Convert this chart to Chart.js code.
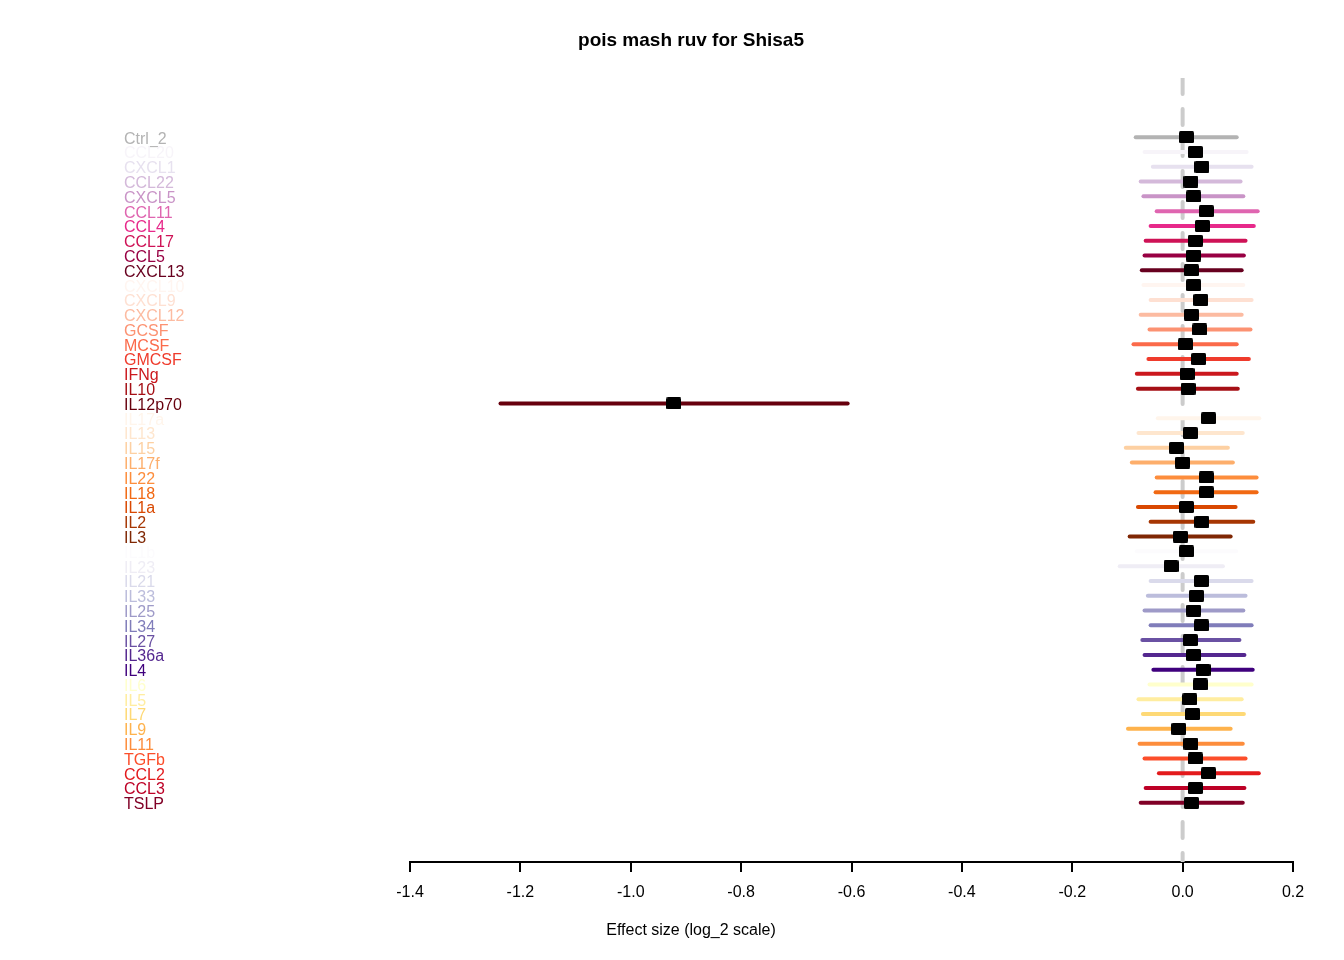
<!DOCTYPE html>
<html>
<head>
<meta charset="utf-8">
<script src="https://cdn.jsdelivr.net/npm/chart.js@4/dist/chart.umd.min.js"></script>
<style>
html,body{margin:0;padding:0;background:#fff;}
#wrap{width:1344px;height:960px;}
</style>
</head>
<body>
<div id="wrap"><canvas id="c" width="1344" height="960"></canvas></div>
<script>
const labels = ["Ctrl_2","CCL20","CXCL1","CCL22","CXCL5","CCL11","CCL4","CCL17","CCL5","CXCL13",
  "CXCL10","CXCL9","CXCL12","GCSF","MCSF","GMCSF","IFNg","IL10","IL12p70",
  "IL17a","IL13","IL15","IL17f","IL22","IL18","IL1a","IL2","IL3",
  "IL1b","IL23","IL21","IL33","IL25","IL34","IL27","IL36a","IL4",
  "IL6","IL5","IL7","IL9","IL11","TGFb","CCL2","CCL3","TSLP"];
const means = [0.007,0.023,0.035,0.015,0.020,0.043,0.036,0.023,0.020,0.016,
  0.020,0.033,0.016,0.031,0.005,0.029,0.008,0.010,-0.922,
  0.047,0.014,-0.011,0.000,0.043,0.043,0.007,0.035,-0.004,
  0.007,-0.021,0.034,0.025,0.020,0.034,0.014,0.020,0.037,
  0.032,0.013,0.018,-0.007,0.015,0.023,0.047,0.023,0.016];
const lowers = [-0.085,-0.069,-0.054,-0.076,-0.071,-0.047,-0.058,-0.067,-0.069,-0.074,
  -0.071,-0.058,-0.076,-0.060,-0.089,-0.062,-0.083,-0.081,-1.236,
  -0.045,-0.080,-0.103,-0.092,-0.047,-0.049,-0.081,-0.058,-0.096,
  -0.083,-0.114,-0.058,-0.063,-0.069,-0.058,-0.073,-0.069,-0.053,
  -0.060,-0.080,-0.072,-0.099,-0.078,-0.069,-0.043,-0.067,-0.076];
const uppers = [0.098,0.116,0.125,0.105,0.110,0.136,0.129,0.114,0.111,0.107,
  0.110,0.125,0.107,0.123,0.098,0.120,0.098,0.100,-0.607,
  0.139,0.109,0.082,0.091,0.134,0.134,0.096,0.128,0.087,
  0.097,0.073,0.125,0.114,0.110,0.125,0.103,0.112,0.127,
  0.125,0.107,0.111,0.087,0.109,0.114,0.138,0.112,0.109];
const colors = ["#B3B3B3",
  "#F7F4F9","#E7E1EF","#D4B9DA","#C994C7","#DF65B0","#E7298A","#CE1256","#980043","#67001F",
  "#FFF5F0","#FEE0D2","#FCBBA1","#FC9272","#FB6A4A","#EF3B2C","#CB181D","#A50F15","#67000D",
  "#FFF5EB","#FEE6CE","#FDD0A2","#FDAE6B","#FD8D3C","#F16913","#D94801","#A63603","#7F2704",
  "#FCFBFD","#EFEDF5","#DADAEB","#BCBDDC","#9E9AC8","#807DBA","#6A51A3","#54278F","#3F007D",
  "#FFFFCC","#FFEDA0","#FED976","#FEB24C","#FD8D3C","#FC4E2A","#E31A1C","#BD0026","#800026"];
const xTicks = [-1.4,-1.2,-1.0,-0.8,-0.6,-0.4,-0.2,0.0,0.2];
const titleText = "pois mash ruv for Shisa5";
const xTitleText = "Effect size (log_2 scale)";

const FONT = "'Liberation Sans', Arial, Helvetica, sans-serif";

// box marker
const box = document.createElement('canvas');
box.width = 15; box.height = 12;
(function(){
  const g = box.getContext('2d');
  g.fillStyle = '#000';
  g.beginPath();
  if (g.roundRect) g.roundRect(0,0,15,12,1.5); else g.rect(0,0,15,12);
  g.fill();
})();

const datasets = [];
// dashed zero line
datasets.push({
  type:'scatter', showLine:true, order:3,
  data:[{x:0,y:-4},{x:0,y:49}],
  borderColor:'#CCCCCC', borderWidth:4, borderDash:[16,15], borderCapStyle:'round',
  pointRadius:0
});
labels.forEach((lab,i)=>{
  datasets.push({
    type:'scatter', showLine:true, order:2,
    data:[{x:lowers[i],y:i},{x:uppers[i],y:i}],
    borderColor:colors[i], borderWidth:4, borderCapStyle:'round',
    pointRadius:0
  });
});
datasets.push({
  type:'scatter', order:1,
  data:means.map((m,i)=>({x:m,y:i})),
  pointStyle:box, pointRadius:7, pointHoverRadius:7
});

const textPlugin = {
  id:'texts',
  afterDraw(chart){
    const ctx = chart.ctx;
    ctx.save();
    ctx.fillStyle = '#000';
    ctx.textAlign = 'center';
    ctx.textBaseline = 'middle';
    ctx.font = "bold 19px " + FONT;
    ctx.fillText(titleText, 691, 41);
    ctx.font = "16px " + FONT;
    ctx.fillText(xTitleText, 691, 931);
    ctx.restore();
  }
};

new Chart(document.getElementById('c'), {
  type:'scatter',
  data:{datasets},
  plugins:[textPlugin],
  options:{
    responsive:false,
    animation:false,
    events:[],
    layout:{padding:{left:124,right:51,top:78,bottom:0}},
    plugins:{legend:{display:false},tooltip:{enabled:false},title:{display:false}},
    scales:{
      x:{
        type:'linear', min:-1.4, max:0.2,
        afterBuildTicks(s){ s.ticks = xTicks.map(v=>({value:v})); },
        afterFit(s){ s.height = 98; },
        border:{display:true,color:'#000',width:2},
        grid:{display:true,drawOnChartArea:false,drawTicks:true,tickLength:10,color:'#000',lineWidth:2},
        ticks:{color:'#000',font:{family:FONT,size:16},padding:11,maxRotation:0,autoSkip:false,
          callback:(v)=> (Math.abs(v)<1e-9?0:v).toFixed(1)}
      },
      y:{
        type:'linear', reverse:true, min:-4, max:49,
        afterBuildTicks(s){ s.ticks = labels.map((_,i)=>({value:i})); },
        afterFit(s){ s.width = 286; },
        border:{display:false},
        grid:{display:false},
        ticks:{autoSkip:false,crossAlign:'far',padding:0,labelOffset:2,
          font:{family:FONT,size:16},
          color:(c)=>colors[c.index],
          callback:(v,i)=>labels[i]}
      }
    }
  }
});
</script>
</body>
</html>
